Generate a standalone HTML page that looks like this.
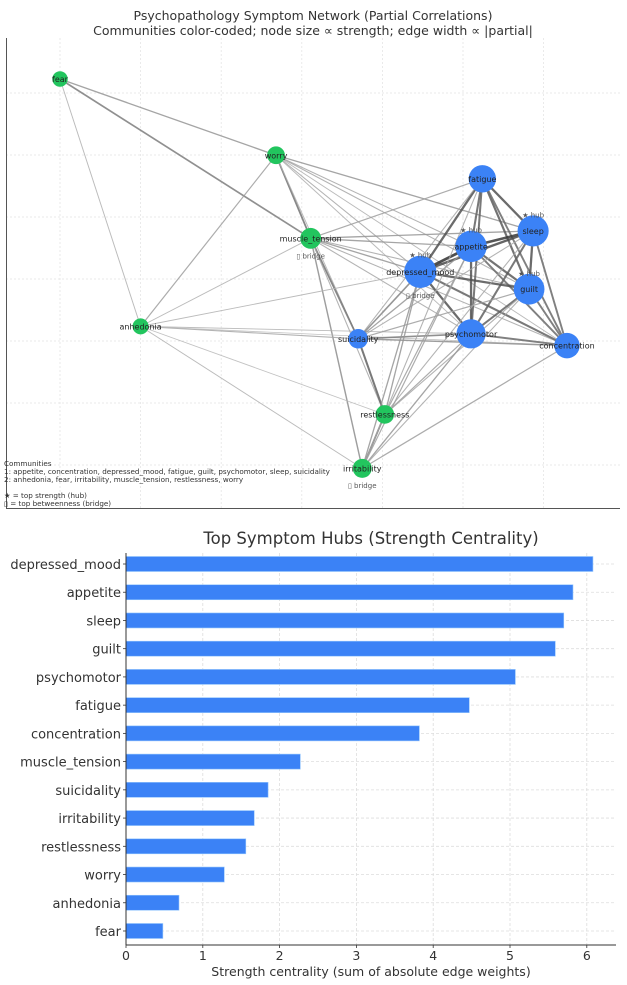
<!DOCTYPE html>
<html><head><meta charset="utf-8"><style>
html,body{margin:0;padding:0;background:#fff;}
svg{display:block;font-family:"DejaVu Sans","Liberation Sans",sans-serif;}
</style></head><body>
<svg id="chart" width="627" height="985" viewBox="0 0 627 985">
  <rect width="627" height="985" fill="#fff"/>
  <g id="net"></g>
  <g id="bars"></g>
</svg>
<script>
// ---------- Network data ----------
const nodeNames = ["fear","worry","muscle_tension","anhedonia","fatigue","sleep","appetite","depressed_mood","guilt","psychomotor","concentration","suicidality","restlessness","irritability"];
const nodeX = [0.0, 2.68, 3.11, 1.0, 5.24, 5.87, 5.1, 4.47, 5.82, 5.1, 6.29, 3.7, 4.03, 3.75];
const nodeY = [6.22, 4.99, 3.65, 2.23, 4.61, 3.77, 3.52, 3.11, 2.83, 2.11, 1.92, 2.03, 0.81, -0.06];
const nodeComm = [2,2,2,2,1,1,1,1,1,1,1,1,2,2];
const hubNodes = ["sleep","appetite","depressed_mood","guilt"];
const bridgeNodes = ["muscle_tension","depressed_mood","irritability"];
const edgeFrom = ["fear","fear","fear","worry","worry","worry","worry","worry","worry","worry","worry","worry",
 "muscle_tension","muscle_tension","muscle_tension","muscle_tension","muscle_tension","muscle_tension","muscle_tension","muscle_tension","muscle_tension","muscle_tension",
 "anhedonia","anhedonia","anhedonia","anhedonia","anhedonia","anhedonia","anhedonia",
 "fatigue","fatigue","fatigue","fatigue","fatigue","fatigue","fatigue",
 "sleep","sleep","sleep","sleep","sleep","appetite","appetite","appetite","appetite","depressed_mood","depressed_mood","depressed_mood",
 "guilt","guilt","psychomotor",
 "suicidality","suicidality","suicidality","suicidality","suicidality","suicidality","suicidality",
 "restlessness","restlessness","restlessness","restlessness","restlessness","restlessness",
 "irritability","irritability","irritability","irritability","irritability","irritability"];
const edgeTo = ["worry","muscle_tension","anhedonia","muscle_tension","anhedonia","sleep","appetite","depressed_mood","guilt","psychomotor","concentration","suicidality",
 "fatigue","sleep","appetite","depressed_mood","guilt","psychomotor","concentration","suicidality","irritability","restlessness",
 "muscle_tension","depressed_mood","suicidality","psychomotor","restlessness","irritability","concentration",
 "sleep","appetite","depressed_mood","guilt","psychomotor","concentration","suicidality",
 "appetite","depressed_mood","guilt","psychomotor","concentration","depressed_mood","guilt","psychomotor","concentration","guilt","psychomotor","concentration",
 "psychomotor","concentration","concentration",
 "depressed_mood","appetite","guilt","psychomotor","concentration","sleep","restlessness",
 "irritability","depressed_mood","appetite","psychomotor","guilt","sleep",
 "depressed_mood","appetite","psychomotor","concentration","guilt","fatigue"];
const edgeW = [0.3,0.45,0.15,0.5,0.25,0.3,0.2,0.2,0.2,0.15,0.15,0.15,
 0.25,0.3,0.3,0.3,0.2,0.2,0.2,0.5,0.35,0.2,
 0.15,0.15,0.2,0.15,0.1,0.15,0.1,
 0.7,0.6,0.7,0.65,0.6,0.55,0.2,
 0.85,0.75,0.7,0.6,0.55,0.9,0.65,0.7,0.55,0.7,0.7,0.6,
 0.6,0.55,0.55,
 0.4,0.3,0.25,0.45,0.35,0.2,0.6,
 0.5,0.3,0.25,0.25,0.2,0.2,
 0.3,0.25,0.3,0.25,0.2,0.2];
const strength = {depressed_mood:6.08,appetite:5.82,sleep:5.70,guilt:5.59,psychomotor:5.07,fatigue:4.47,concentration:3.82,muscle_tension:2.27,suicidality:1.85,irritability:1.67,restlessness:1.56,worry:1.28,anhedonia:0.69,fear:0.48};

// ---------- Bar data ----------
const barCats = ["depressed_mood","appetite","sleep","guilt","psychomotor","fatigue","concentration","muscle_tension","suicidality","irritability","restlessness","worry","anhedonia","fear"];
const barVals = [6.08,5.82,5.70,5.59,5.07,4.47,3.82,2.27,1.85,1.67,1.56,1.28,0.69,0.48];
const xTicks = [0,1,2,3,4,5,6];

const NS="http://www.w3.org/2000/svg";
function mk(tag,attrs,parent,text){const e=document.createElementNS(NS,tag);for(const k in attrs)e.setAttribute(k,attrs[k]);if(text!==undefined)e.textContent=text;parent.appendChild(e);return e;}

// ---------- Network ----------
const net=document.getElementById('net');
const nx=v=>60+v*80.6;
const ny=v=>79+(6.22-v)*62;
const title1=mk('text',{x:313,y:20,'text-anchor':'middle','font-size':12.5,fill:'#333'},net,'Psychopathology Symptom Network (Partial Correlations)');


const title2=mk('text',{x:313,y:35,'text-anchor':'middle','font-size':12.5,fill:'#333'},net,'Communities color-coded; node size \u221d strength; edge width \u221d |partial|');


const grid=mk('g',{},net);


for(let i=0;i<7;i++){mk('line',{x1:nx(i),x2:nx(i),y1:38,y2:508,stroke:'#e4e4e4','stroke-width':0.8,'stroke-dasharray':'2,2'},grid);}
for(let i=0;i<7;i++){const y=93+i*62;mk('line',{x1:6,x2:620,y1:y,y2:y,stroke:'#e4e4e4','stroke-width':0.8,'stroke-dasharray':'2,2'},grid);}
const spL=mk('line',{x1:6.5,x2:6.5,y1:38,y2:508,stroke:'#555','stroke-width':1},net);


const spB=mk('line',{x1:6,x2:620,y1:508.5,y2:508.5,stroke:'#555','stroke-width':1},net);


const idx=n=>nodeNames.indexOf(n);
const eg=mk('g',{},net);


for(let i=0;i<edgeFrom.length;i++){
  const a=idx(edgeFrom[i]),b=idx(edgeTo[i]),w=edgeW[i];
  const g=Math.round(200-170*w);
  const l=mk('line',{x1:nx(nodeX[a]),y1:ny(nodeY[a]),x2:nx(nodeX[b]),y2:ny(nodeY[b]),stroke:`rgb(${g},${g},${g})`,'stroke-width':(0.6+2.4*w).toFixed(2),'stroke-opacity':0.85},eg);
  
  
}
const ng=mk('g',{},net);


for(let i=0;i<nodeNames.length;i++){
  const n=nodeNames[i],cx=nx(nodeX[i]),cy=ny(nodeY[i]),r=7+1.5*strength[n];
  const c=mk('circle',{cx:cx,cy:cy,r:r,fill:nodeComm[i]===1?'#3b82f6':'#22c55e'},ng);
  
  
  const t=mk('text',{x:cx,y:cy+3,'text-anchor':'middle','font-size':8,fill:'#222'},ng,n);
  
  
  if(hubNodes.includes(n)){
    const h=mk('text',{x:cx,y:cy-r+2,'text-anchor':'middle','font-size':7,fill:'#555'},ng,'\u2605 hub');
    
    
  }
  if(bridgeNodes.includes(n)){
    const b=mk('text',{x:cx,y:cy+r+10,'text-anchor':'middle','font-size':7,fill:'#555'},ng,'\u25af bridge');
    
    
  }
}
const leg=mk('g',{'font-size':7.2,fill:'#333'},net);


['Communities','1: appetite, concentration, depressed_mood, fatigue, guilt, psychomotor, sleep, suicidality','2: anhedonia, fear, irritability, muscle_tension, restlessness, worry','','\u2605 = top strength (hub)','\u25af = top betweenness (bridge)'].forEach((s,i)=>{mk('text',{x:4,y:466+i*8},leg,s);});

// ---------- Bars ----------
const bars=document.getElementById('bars');
const bx=v=>126+v*76.8;
const by=i=>564+i*28.23;
const bt=mk('text',{x:371,y:544,'text-anchor':'middle','font-size':16.5,fill:'#333'},bars,'Top Symptom Hubs (Strength Centrality)');


const bg=mk('g',{},bars);


xTicks.forEach(t=>mk('line',{x1:bx(t),x2:bx(t),y1:553,y2:945,stroke:'#ddd','stroke-width':0.8,'stroke-dasharray':'3,2'},bg));
barCats.forEach((c,i)=>mk('line',{x1:126,x2:616,y1:by(i),y2:by(i),stroke:'#ddd','stroke-width':0.8,'stroke-dasharray':'3,2'},bg));
barCats.forEach((c,i)=>{
  const r=mk('rect',{x:126,y:by(i)-7.5,width:bx(barVals[i])-126,height:15,fill:'#3b82f6',stroke:'#93c5fd','stroke-width':0.6},bars);
  
  
  const t=mk('text',{x:121,y:by(i)+5,'text-anchor':'end','font-size':13,fill:'#333'},bars,c);
  
  
  mk('line',{x1:126,x2:123,y1:by(i),y2:by(i),stroke:'#333','stroke-width':0.8},bars);
});
xTicks.forEach(t=>{
  const l=mk('text',{x:bx(t),y:960,'text-anchor':'middle','font-size':12.5,fill:'#333'},bars,String(t));
  
  
  mk('line',{x1:bx(t),x2:bx(t),y1:945,y2:948,stroke:'#333','stroke-width':0.8},bars);
});
const ax1=mk('line',{x1:126,x2:126,y1:553,y2:945,stroke:'#333','stroke-width':1},bars);


const ax2=mk('line',{x1:126,x2:616,y1:945,y2:945,stroke:'#333','stroke-width':1},bars);


const xt=mk('text',{x:371,y:976,'text-anchor':'middle','font-size':12.5,fill:'#333'},bars,'Strength centrality (sum of absolute edge weights)');


</script>
</body></html>
